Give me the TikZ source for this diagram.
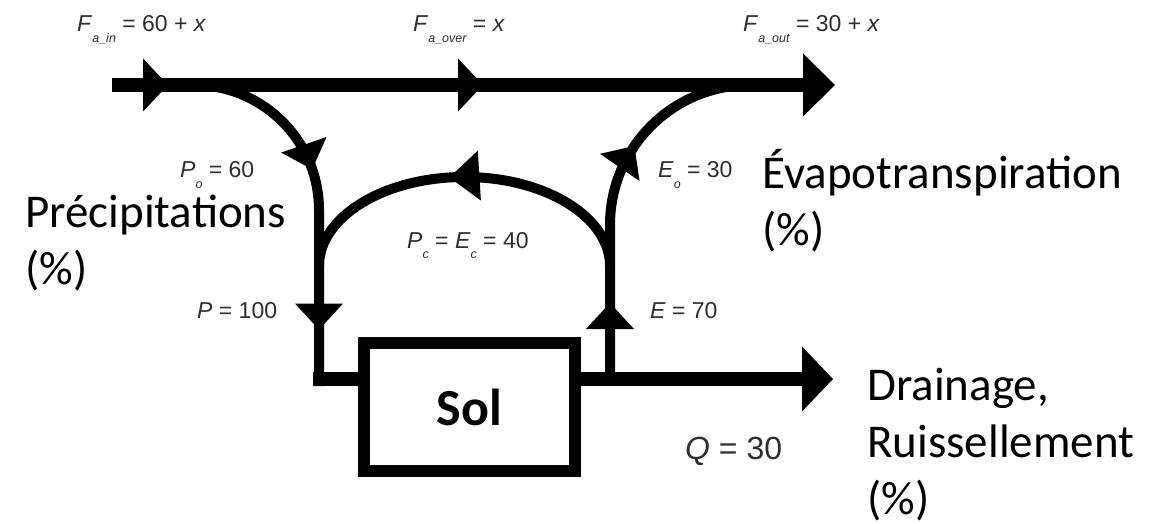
\documentclass[tikz,border=0pt]{standalone}
\usepackage{fontspec}
\setmainfont{Carlito}
\newfontfamily\labfont{Liberation Sans}
\usetikzlibrary{arrows.meta,decorations.markings}
\newcommand\sbs[1]{\raisebox{-0.45em}{\fontsize{12.5}{12.5}\selectfont\itshape #1}}
\begin{document}
\begin{tikzpicture}[x=1pt,y=-1pt,
  thickline/.style={line width=14pt},
  thinline/.style={line width=10pt},
  val/.style={font=\labfont\fontsize{23}{27}\selectfont, text=black!82, anchor=base west, inner sep=0pt},
  big/.style={font=\fontsize{47}{57}\selectfont, align=left, anchor=base west, inner sep=0pt},
  tipTop/.tip={Triangle[length=25pt,width=53pt,line width=0pt 0 0]},
  tipV/.tip={Triangle[length=26pt,width=48pt,line width=0pt 0 0]},
  tipArc/.tip={Triangle[length=30pt,width=50pt,line width=0pt 0 0]},
  tipEnd/.tip={Triangle[length=32pt,width=63pt,line width=0pt 0 0]},
  twomarks/.style n args={4}{postaction={decorate, decoration={markings,
      mark=at position #1 with {\arrow{#2}},
      mark=at position #3 with {\arrow{#4}}}}},
  onemark/.style 2 args={postaction={decorate, decoration={markings,
      mark=at position #1 with {\arrow{#2}}}}},
]
\useasboundingbox[fill=white] (0,0) rectangle (1163,524);

% coordinates
\coordinate (tl) at (112,85);
\coordinate (tr) at (835,85);
\coordinate (lc0) at (194,85);
\coordinate (lc1) at (319,210);
\coordinate (lcorner) at (319,386);
\coordinate (lbot) at (313,379);
\coordinate (e0) at (610,379);
\coordinate (e1) at (610,225);
\coordinate (e2) at (750,85);
\coordinate (m0) at (610,266);
\coordinate (mt) at (464.5,177);
\coordinate (m1) at (319,266);
\coordinate (dr) at (833,379);

% soil box
\node[draw, line width=12pt, minimum width=211pt, minimum height=128pt, inner sep=0pt,
      font=\bfseries\fontsize{52}{60}\selectfont] (sol) at (469.5,407) {Sol};

% top atmospheric flux
\draw[thickline, -{tipEnd}, twomarks={56pt}{tipTop}{371pt}{tipTop}] (tl) -- (tr);

% precipitation branch
\draw[thinline, twomarks={155pt}{tipV}{316pt}{tipV}]
  (lc0) .. controls (263,85) and (319,141) .. (lc1) -- (lcorner);
\draw[thickline] (lbot) -- (lbot -| sol.west);

% drainage
\draw[thickline, -{Triangle[length=31pt,width=65pt,line width=0pt 0 0]}] (dr -| sol.east) -- (dr);

% evapotranspiration branch
\draw[thinline, twomarks={76pt}{tipV}{238pt}{tipV}]
  (e0) -- (e1) .. controls (610,147.7) and (672.7,85) .. (e2);

% recycling arc
\draw[thinline, onemark={202pt}{tipArc}]
  (m0) .. controls (610,216.8) and (544.9,177) .. (mt) .. controls (384.1,177) and (319,216.8) .. (m1);

% values
\node[val] (fin) at (77,32) {\textit{F}\sbs{a\_in} = 60 + \textit{x}};
\node[val] (fover) at (413,32) {\textit{F}\sbs{a\_over} = \textit{x}};
\node[val] (fout) at (743,32) {\textit{F}\sbs{a\_out} = 30 + \textit{x}};
\node[val] (po) at (180,178) {\textit{P}\sbs{o} = 60};
\node[val] (p) at (197,318) {\textit{P} = 100};
\node[val] (pc) at (407,248) {\textit{P}\sbs{c} = \textit{E}\sbs{c} = 40};
\node[val] (eo) at (658,178) {\textit{E}\sbs{o} = 30};
\node[val] (e) at (650,318) {\textit{E} = 70};
\node[val, font=\labfont\fontsize{32}{36}\selectfont] (q) at (685,459) {\textit{Q} = 30};

% big labels (anchor = baseline of the last line)
\node[big] (prec) at (25,284) {Précipitations\\(\%)};
\node[big] (evap) at (762,245) {Évapotranspiration\\(\%)};
\node[big] (drain) at (867,514) {Drainage,\\Ruissellement\\(\%)};
\end{tikzpicture}
\end{document}
